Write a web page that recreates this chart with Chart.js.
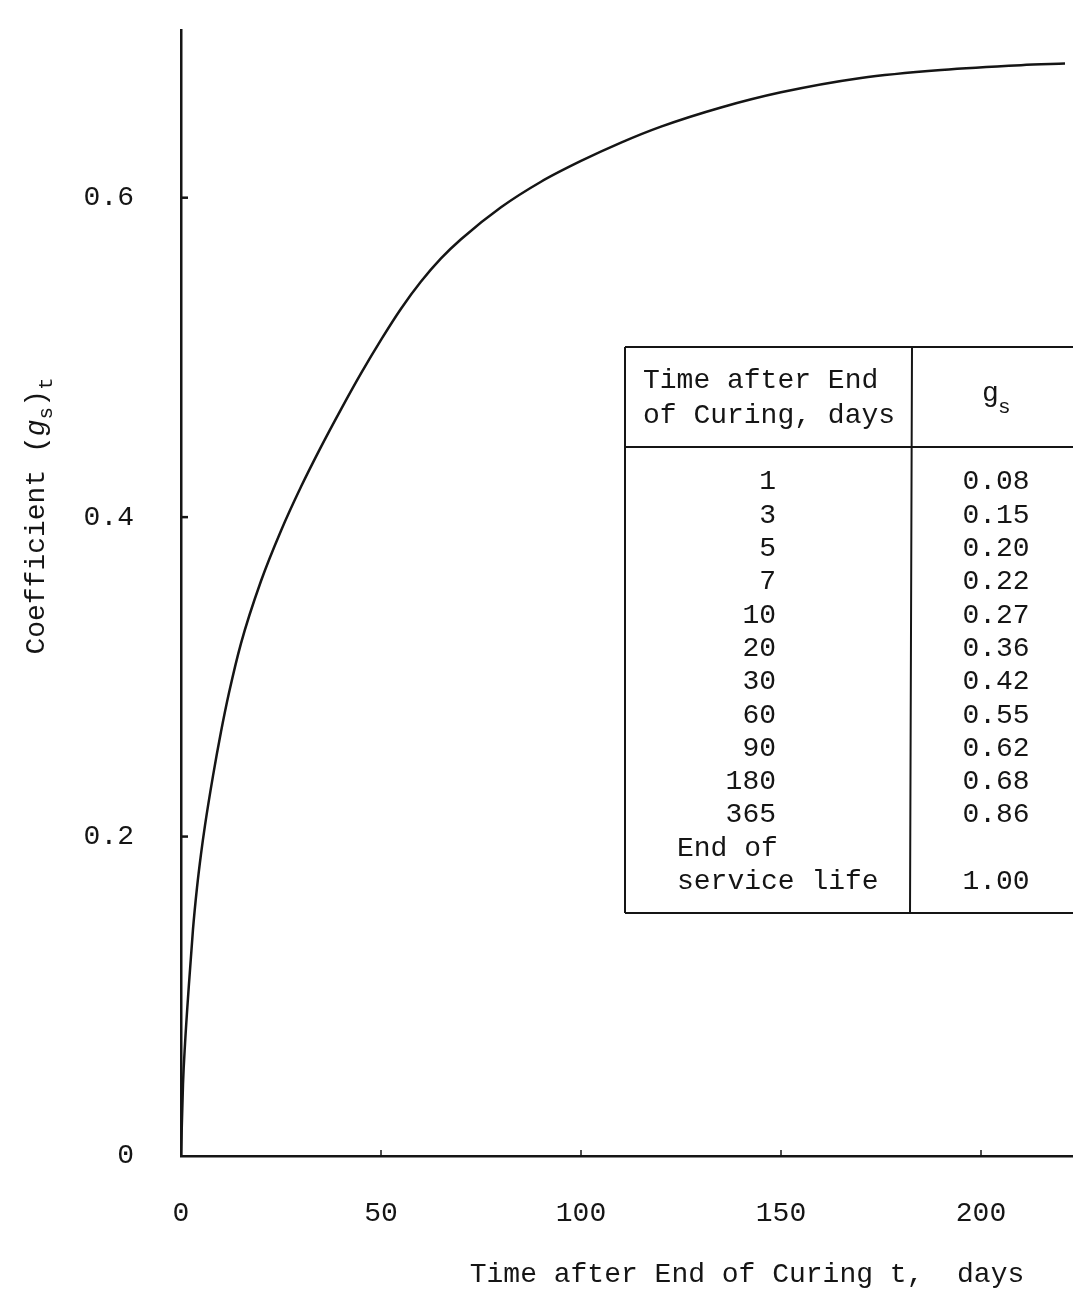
<!DOCTYPE html>
<html>
<head>
<meta charset="utf-8">
<script src="https://cdn.jsdelivr.net/npm/chart.js@4.4.1/dist/chart.umd.min.js"></script>
<style>
  html, body { margin: 0; padding: 0; background: #fff; }
  canvas { display: block; }
</style>
</head>
<body>
<canvas id="coefChart" width="1073" height="1298"></canvas>
<script>
// curve: time after end of curing (days) vs coefficient
const days = [0, 0.5, 1, 2, 3, 4, 5, 6, 8, 10, 12, 15, 20, 25, 30, 35, 40, 45, 50, 55, 60, 65, 70, 80, 90, 100, 110, 120, 135, 150, 170, 190, 210, 221];
const coef = [0, 0.045, 0.07, 0.108, 0.142, 0.168, 0.189, 0.207, 0.238, 0.2656, 0.29, 0.321, 0.36, 0.3915, 0.419, 0.444, 0.4675, 0.49, 0.511, 0.5305, 0.5475, 0.562, 0.574, 0.594, 0.61, 0.623, 0.6345, 0.6445, 0.6565, 0.666, 0.675, 0.68, 0.683, 0.684];

const xTicks = [0, 50, 100, 150, 200];
const yTicks = [0, 0.2, 0.4, 0.6];

// inset table
const tableDays = ['1', '3', '5', '7', '10', '20', '30', '60', '90', '180', '365'];
const tableGs = ['0.08', '0.15', '0.20', '0.22', '0.27', '0.36', '0.42', '0.55', '0.62', '0.68', '0.86'];
const tableEnd = ['End of', 'service life', '1.00'];

const FONT = "'Liberation Mono', 'DejaVu Sans Mono', monospace";
const INK = '#151515';

const extras = {
    id: 'extras',
    afterDraw(chart) {
        const ctx = chart.ctx;
        const xs = chart.scales.x, ys = chart.scales.y;
        ctx.save();
        ctx.strokeStyle = INK;
        ctx.fillStyle = INK;

        // small tick marks pointing into the plot
        ctx.lineWidth = 2.5;
        yTicks.forEach(v => {
            if (v === 0) return;
            const py = ys.getPixelForValue(v);
            ctx.beginPath();
            ctx.moveTo(xs.left, py);
            ctx.lineTo(xs.left + 7, py);
            ctx.stroke();
        });
        ctx.lineWidth = 1.5;
        xTicks.forEach(v => {
            if (v === 0) return;
            const px = xs.getPixelForValue(v);
            ctx.beginPath();
            ctx.moveTo(px, ys.bottom);
            ctx.lineTo(px, ys.bottom - 6);
            ctx.stroke();
        });

        // y axis title with subscripts, rotated
        ctx.save();
        ctx.translate(37, 516);
        ctx.rotate(-Math.PI / 2);
        ctx.textBaseline = 'middle';
        ctx.textAlign = 'left';
        const big = '28px ' + FONT, small = '21px ' + FONT;
        const parts = [
            { t: 'Coefficient (', f: big, dy: 0 },
            { t: 'g', f: 'italic 28px ' + FONT, dy: 0 },
            { t: 's', f: small, dy: 9 },
            { t: ')', f: big, dy: 0 },
            { t: 't', f: small, dy: 9 }
        ];
        let total = 0;
        parts.forEach(p => { ctx.font = p.f; total += ctx.measureText(p.t).width; });
        let cx = -total / 2;
        parts.forEach(p => {
            ctx.font = p.f;
            ctx.fillText(p.t, cx, p.dy);
            cx += ctx.measureText(p.t).width;
        });
        ctx.restore();

        // x axis title
        ctx.font = '28px ' + FONT;
        ctx.textAlign = 'center';
        ctx.textBaseline = 'middle';
        ctx.fillText('Time after End of Curing t,  days', 747, 1275);

        // table box
        const left = 625, top = 347, bottom = 913, right = 1080, divX = 912, headY = 447;
        ctx.fillStyle = '#fff';
        ctx.fillRect(left, top, right - left, bottom - top);
        ctx.fillStyle = INK;
        ctx.lineWidth = 2;
        ctx.beginPath();
        ctx.moveTo(left, top); ctx.lineTo(right, top);
        ctx.moveTo(left, bottom); ctx.lineTo(right, bottom);
        ctx.moveTo(left, top); ctx.lineTo(left, bottom);
        ctx.moveTo(left, headY); ctx.lineTo(right, headY);
        ctx.moveTo(divX, top); ctx.lineTo(divX - 2, bottom);
        ctx.stroke();

        ctx.font = '28px ' + FONT;
        ctx.textAlign = 'left';
        ctx.fillText('Time after End', 643, 381);
        ctx.fillText('of Curing, days', 643, 416);
        ctx.fillText('g', 982, 394);
        ctx.font = '21px ' + FONT;
        ctx.fillText('s', 998, 407);

        ctx.font = '28px ' + FONT;
        const rowH = 33.3, row0 = 482;
        tableDays.forEach((d, i) => {
            const y = row0 + i * rowH;
            ctx.textAlign = 'right';
            ctx.fillText(d, 776, y);
            ctx.textAlign = 'center';
            ctx.fillText(tableGs[i], 996, y);
        });
        const yEnd = row0 + tableDays.length * rowH;
        ctx.textAlign = 'left';
        ctx.fillText(tableEnd[0], 677, yEnd);
        ctx.fillText(tableEnd[1], 677, yEnd + rowH);
        ctx.textAlign = 'center';
        ctx.fillText(tableEnd[2], 996, yEnd + rowH);

        ctx.restore();
    }
};

const ctx = document.getElementById('coefChart').getContext('2d');
new Chart(ctx, {
    type: 'line',
    data: {
        datasets: [{
            data: days.map((d, i) => ({ x: d, y: coef[i] })),
            borderColor: INK,
            borderWidth: 2.5,
            pointRadius: 0,
            fill: false,
            cubicInterpolationMode: 'monotone'
        }]
    },
    options: {
        responsive: false,
        animation: false,
        devicePixelRatio: 1,
        layout: { padding: { top: 30, left: 0, right: 0, bottom: 0 } },
        plugins: {
            legend: { display: false },
            tooltip: { enabled: false }
        },
        scales: {
            x: {
                type: 'linear',
                min: 0,
                max: 223,
                afterBuildTicks: s => { s.ticks = xTicks.map(v => ({ value: v })); },
                afterFit: s => { s.height = 142; s.paddingLeft = 0; s.paddingRight = 0; },
                grid: { display: false },
                border: { display: true, color: INK, width: 2.5 },
                ticks: {
                    color: INK,
                    font: { family: FONT, size: 28 },
                    padding: 33,
                    maxRotation: 0,
                    callback: v => String(v)
                }
            },
            y: {
                type: 'linear',
                min: 0,
                max: 0.705,
                afterBuildTicks: s => { s.ticks = yTicks.map(v => ({ value: v })); },
                afterFit: s => { s.width = 181; s.paddingTop = 0; s.paddingBottom = 0; },
                grid: { display: false },
                border: { display: true, color: INK, width: 2.5 },
                ticks: {
                    color: INK,
                    font: { family: FONT, size: 28 },
                    padding: 39,
                    callback: v => v === 0 ? '0' : v.toFixed(1)
                }
            }
        }
    },
    plugins: [extras]
});
</script>
</body>
</html>
